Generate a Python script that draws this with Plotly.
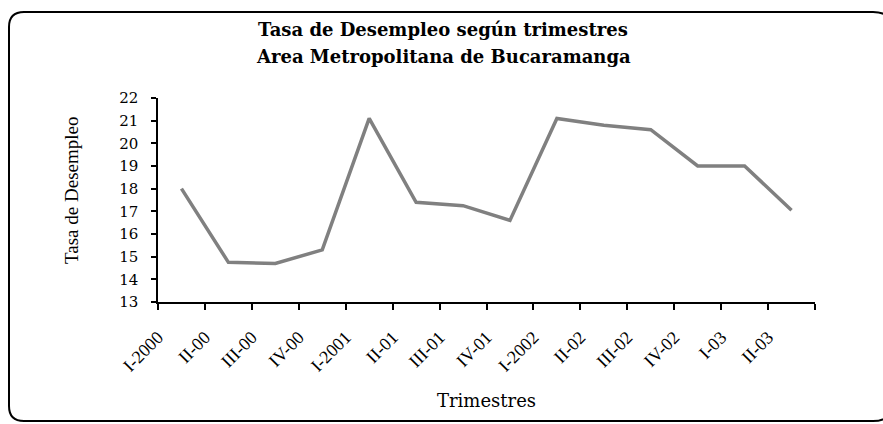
import plotly.graph_objects as go

# ---- data ----
categories = ["I-2000", "II-00", "III-00", "IV-00", "I-2001", "II-01", "III-01",
              "IV-01", "I-2002", "II-02", "III-02", "IV-02", "I-03", "II-03"]
tasa = [18.0, 14.75, 14.7, 15.3, 21.1, 17.4, 17.25, 16.6, 21.1, 20.8, 20.6, 19.0, 19.0, 17.05]
y_ticks = list(range(13, 23))
title_lines = ["Tasa de Desempleo según trimestres", "Area Metropolitana de Bucaramanga"]

# body margin is removed in the page, so figure pixels == screen pixels
W, H = 883, 424
L, T = 158, 98
PR, PB = 815, 302          # plot right / bottom in pixels
R, B = W - PR, H - PB
PW, PH = PR - L, PB - T


def px(xs):
    return (xs - L) / PW


def py(ys):
    return 1 - (ys - T) / PH


n = len(categories)
xpos = [i + 0.5 for i in range(n)]

fig = go.Figure()
fig.add_trace(go.Scatter(
    x=xpos, y=tasa, mode="lines",
    line=dict(color="#808080", width=3.5),
    showlegend=False, hoverinfo="y",
))

serif = "DejaVu Serif"
times = "Liberation Serif"

annotations = [
    dict(text=f"<b>{title_lines[0]}</b>", x=px(443), y=py(29.5)),
    dict(text=f"<b>{title_lines[1]}</b>", x=px(443), y=py(56)),
]
for a in annotations:
    a.update(xref="paper", yref="paper", xanchor="center", yanchor="middle",
             showarrow=False, font=dict(family=serif, size=18, color="black"))
annotations += [
    dict(text="Tasa de Desempleo", textangle=-90,
         x=px(71), y=py(191), xref="paper", yref="paper",
         xanchor="center", yanchor="middle", showarrow=False,
         font=dict(family=times, size=19, color="black")),
    dict(text="Trimestres",
         x=px(486), y=py(400), xref="paper", yref="paper",
         xanchor="center", yanchor="middle", showarrow=False,
         font=dict(family=serif, size=18, color="black")),
]

fig.update_layout(
    width=W, height=H,
    margin=dict(l=L, r=R, t=T, b=B),
    paper_bgcolor="white", plot_bgcolor="white",
    xaxis=dict(
        range=[0, n], tickmode="array",
        tickvals=list(range(n + 1)), ticktext=categories + [""],
        tickangle=-45, ticks="outside", ticklen=6, tickwidth=1.5, tickcolor="black",
        showline=True, linecolor="black", linewidth=1.5,
        showgrid=False, zeroline=False, ticklabelstandoff=10,
        tickfont=dict(family=times, size=18, color="black"),
    ),
    yaxis=dict(
        range=[13, 22], tickmode="array", tickvals=y_ticks,
        ticks="outside", ticklen=5, tickwidth=1.5, tickcolor="black",
        showline=True, linecolor="black", linewidth=1.5,
        showgrid=False, zeroline=False, ticklabelstandoff=10,
        tickfont=dict(family=serif, size=15, color="black"),
    ),
    annotations=annotations,
)

# rounded frame around the chart (right side runs off the page)
x0, x1, y0, y1 = px(9), px(893), py(12), py(421)
rx, ry = 20 / PW, 20 / PH
rl, rly = 15 / PW, 15 / PH
path = (f"M {x0+rl},{y0} L {x1-rx},{y0} Q {x1},{y0} {x1},{y0-ry} "
        f"L {x1},{y1+ry} Q {x1},{y1} {x1-rx},{y1} "
        f"L {x0+rl},{y1} Q {x0},{y1} {x0},{y1+rly} "
        f"L {x0},{y0-rly} Q {x0},{y0} {x0+rl},{y0} Z")
fig.add_shape(type="path", path=path, xref="paper", yref="paper",
              line=dict(color="black", width=2))

fig.write_html(
    "out.html",
    config={"displayModeBar": False},
    post_script="document.body.style.margin='0';document.body.style.overflow='hidden';",
)
